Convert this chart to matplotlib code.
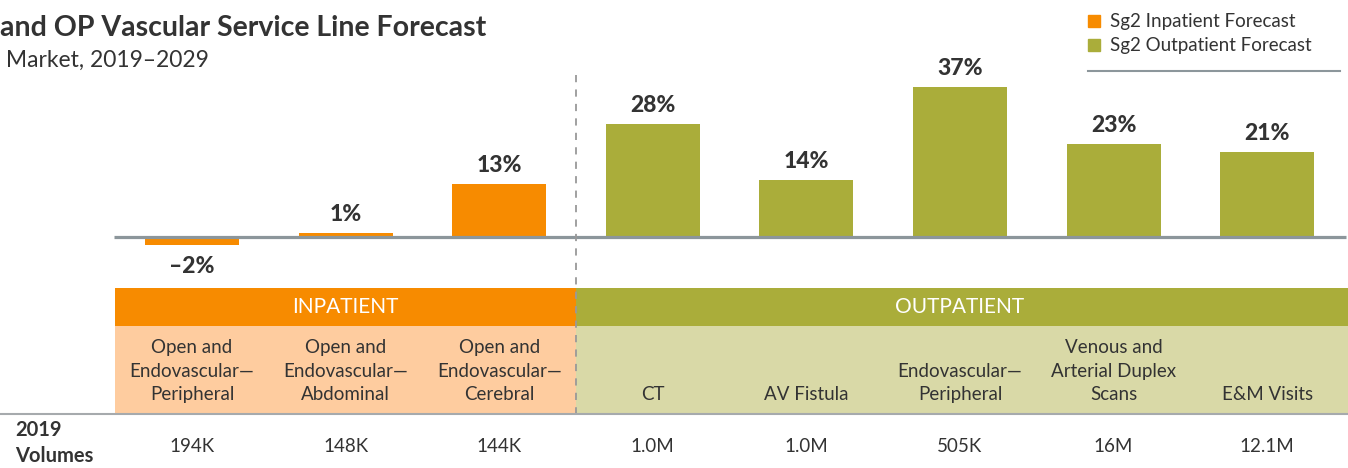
import matplotlib.pyplot as plt
from matplotlib.patches import Rectangle

plt.rcParams['font.family'] = ['Lato', 'DejaVu Sans']

categories = ["Open and\nEndovascular—\nPeripheral", "Open and\nEndovascular—\nAbdominal",
              "Open and\nEndovascular—\nCerebral", "CT", "AV Fistula",
              "Endovascular—\nPeripheral", "Venous and\nArterial Duplex\nScans", "E&M Visits"]
growth = [-2, 1, 13, 28, 14, 37, 23, 21]
labels = ["–2%", "1%", "13%", "28%", "14%", "37%", "23%", "21%"]
volumes = ["194K", "148K", "144K", "1.0M", "1.0M", "505K", "16M", "12.1M"]
setting = ["IP", "IP", "IP", "OP", "OP", "OP", "OP", "OP"]

orange = "#F78B00"
olive = "#AAAD3A"
light_orange = "#FECC9F"
light_olive = "#D9D9A7"
txt = "#333333"
grey = "#8C969B"

fig = plt.figure(figsize=(13.48, 4.68), dpi=100)

# pixel helpers: category i centre at 192 + 153.6*i
x0 = -192 / 153.6
x1 = (1348 - 192) / 153.6
ppp = 4.05  # pixels per percent, baseline at y=237

ax = fig.add_axes([0, 180 / 468, 1, 288 / 468])
ax.set_xlim(x0, x1)
ax.set_ylim(-(288 - 237) / ppp, 237 / ppp)
ax.axis('off')

xs = list(range(len(categories)))
cols = [orange if s == "IP" else olive for s in setting]
ax.bar(xs, growth, width=0.612, color=cols, zorder=2)
ax.hlines(0, -0.51, 7.51, color=grey, lw=2.3, zorder=3)
for x, v, l in zip(xs, growth, labels):
    if v >= 0:
        ax.text(x, v + 2.0, l, ha='center', va='bottom', fontsize=16.5, fontweight='black', color=txt)
    else:
        ax.text(x, v - 2.6, l, ha='center', va='top', fontsize=16.5, fontweight='black', color=txt)

# title and legend
fig.text(0.0, 1 - 28 / 468, "and OP Vascular Service Line Forecast", fontsize=20.5, fontweight='bold',
         color=txt, va='center', ha='left')
fig.text(0.0, 1 - 60 / 468, " Market, 2019–2029", fontsize=16.5, color=txt, va='center', ha='left')
for i, (c, name) in enumerate([(orange, "Sg2 Inpatient Forecast"), (olive, "Sg2 Outpatient Forecast")]):
    yy = 21 + 24 * i
    fig.patches.append(Rectangle((1088 / 1348, 1 - (yy + 6) / 468), 12 / 1348, 12 / 468,
                                 transform=fig.transFigure, color=c))
    fig.text(1110 / 1348, 1 - yy / 468, name, fontsize=13.5, color=txt, va='center', ha='left')
fig.add_artist(plt.Line2D([1088 / 1348, 1340 / 1348], [1 - 71 / 468] * 2, color=grey, lw=1.5))

# table section
tb = fig.add_axes([0, 0, 1, 180 / 468])
tb.set_xlim(x0, x1)
tb.set_ylim(468, 288)
tb.axis('off')

tb.add_patch(Rectangle((-0.5, 288), 3.0, 38, color=orange, lw=0))
tb.add_patch(Rectangle((2.5, 288), x1 - 2.5, 38, color=olive, lw=0))
tb.add_patch(Rectangle((-0.5, 326), 3.0, 87, color=light_orange, lw=0))
tb.add_patch(Rectangle((2.5, 326), x1 - 2.5, 87, color=light_olive, lw=0))
tb.text(1.0, 307, "INPATIENT", ha='center', va='center', fontsize=15, color='white')
tb.text(5.0, 307, "OUTPATIENT", ha='center', va='center', fontsize=15, color='white')
tb.hlines(413.5, x0, x1, color="#A6AAAD", lw=1.5)
tb.vlines(2.5, 75, 413, color="#999999", lw=1.3, linestyles=(0, (4, 4)), clip_on=False, zorder=5)

for x, c, v in zip(xs, categories, volumes):
    tb.text(x, 403, c, ha='center', va='bottom', fontsize=13.5, color=txt, linespacing=1.45)
    tb.text(x, 446, v, ha='center', va='center', fontsize=13.5, color=txt)
tb.text(15 / 153.6 + x0, 443, "2019\nVolumes", ha='left', va='center', fontsize=14.5,
        fontweight='bold', color=txt, linespacing=1.4)

fig.savefig("out.png", dpi=100)
